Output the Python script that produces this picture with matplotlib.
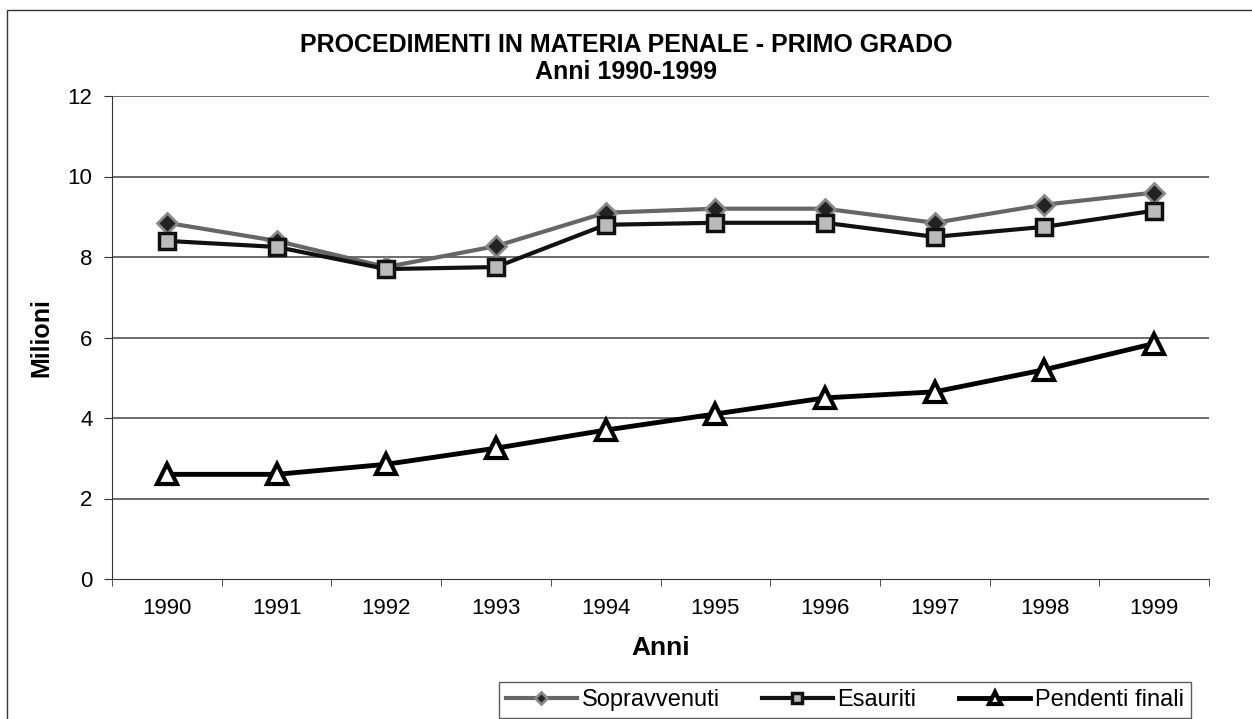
import numpy as np
import matplotlib
matplotlib.use("Agg")
import matplotlib.pyplot as plt
from matplotlib.patches import Rectangle

plt.rcParams['font.family'] = ['Liberation Sans', 'DejaVu Sans']

anni = ["1990", "1991", "1992", "1993", "1994", "1995", "1996", "1997", "1998", "1999"]
sopravvenuti = [8.85, 8.4, 7.75, 8.27, 9.1, 9.2, 9.2, 8.85, 9.3, 9.6]
esauriti = [8.4, 8.25, 7.7, 7.75, 8.8, 8.85, 8.85, 8.5, 8.75, 9.15]
pendenti = [2.6, 2.6, 2.85, 3.25, 3.7, 4.1, 4.5, 4.65, 5.2, 5.85]
y_ticks = [0, 2, 4, 6, 8, 10, 12]

fig = plt.figure(figsize=(12.52, 7.19), dpi=100)
ax = fig.add_axes([112 / 1252, 1 - 579 / 719, (1209 - 112) / 1252, (579 - 96) / 719])

x = np.arange(len(anni))

ax.plot(x, sopravvenuti, color="#666666", lw=3, marker="D", ms=10,
        mfc="#222222", mec="#888888", mew=2, label="Sopravvenuti", zorder=3)
ax.plot(x, esauriti, color="#111111", lw=3, marker="s", ms=11,
        mfc="#bbbbbb", mec="#111111", mew=2.5, label="Esauriti", zorder=3)
ax.plot(x, pendenti, color="black", lw=3.5, marker="^", ms=15,
        mfc="white", mec="black", mew=3, label="Pendenti finali", zorder=3)

ax.set_xlim(-0.5, len(anni) - 0.5)
ax.set_ylim(0, 12)
ax.set_yticks(y_ticks)
ax.set_xticks(x)
ax.set_xticklabels(anni)
ax.set_xticks(np.arange(-0.5, len(anni)), minor=True)
ax.tick_params(axis="x", which="major", length=0, labelsize=16, pad=14)
ax.tick_params(axis="x", which="minor", length=5, color="#333333")
ax.tick_params(axis="y", labelsize=16, length=6, color="#333333", pad=8)

for v in y_ticks[1:]:
    ax.axhline(v, color="#444444", lw=1.1, zorder=1)

for s in ["top", "right"]:
    ax.spines[s].set_visible(False)
ax.spines["left"].set_color("#333333")
ax.spines["bottom"].set_color("#333333")

ax.set_ylabel("Milioni", fontsize=18, fontweight="bold", labelpad=10)
ax.set_xlabel("Anni", fontsize=19, fontweight="bold", labelpad=12)

fig.text(0.5, 1 - 45 / 719, "PROCEDIMENTI IN MATERIA PENALE - PRIMO GRADO",
         ha="center", va="center", fontsize=18, fontweight="bold")
fig.text(0.5, 1 - 72 / 719, "Anni 1990-1999",
         ha="center", va="center", fontsize=18, fontweight="bold")

leg = fig.legend(loc="lower left", bbox_to_anchor=(487 / 1252, -0.015), ncol=3,
                 fontsize=17, frameon=True, fancybox=False, edgecolor="#333333",
                 handlelength=3.0, columnspacing=1.8, handletextpad=0.2,
                 borderpad=0.3, markerscale=0.6)
leg.get_frame().set_linewidth(1)

fig.patches.append(Rectangle((7 / 1252, -0.01), 1.1, 1 - 10 / 719 + 0.01,
                             transform=fig.transFigure, fill=False,
                             edgecolor="#333333", lw=1))

fig.savefig("out.png", dpi=100)
